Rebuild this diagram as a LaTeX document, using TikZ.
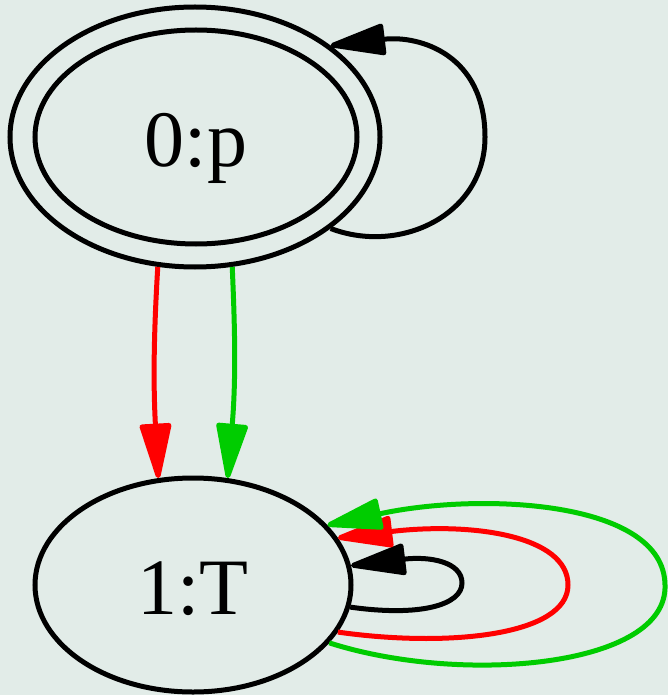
\documentclass[tikz,border=0pt]{standalone}
\usepackage{fontspec}
\setmainfont{Liberation Serif}
\usetikzlibrary{shapes.geometric,arrows.meta}
\definecolor{bgc}{RGB}{226,236,232}
\definecolor{edgered}{RGB}{255,0,0}
\definecolor{edgegreen}{RGB}{0,204,0}
\begin{document}
\begin{tikzpicture}[x=1pt,y=-1pt,
  state/.style={ellipse,draw,line width=5pt,inner sep=0pt,
    text height=58pt,text depth=0pt,font=\fontsize{80}{96}\selectfont},
  edge/.style={line width=5pt,-{Triangle[length=62pt,width=32pt,round]}},
]
% canvas
\fill[bgc] (0,0) rectangle (668,695);
\useasboundingbox (0,0) rectangle (668,695);

% states: 0 is accepting (double ring)
\node[state,minimum width=370pt,minimum height=260pt] (n0) at (195,137) {};
\node[state,minimum width=322pt,minimum height=214pt] (n0in) at (196,137) {0:p};
\node[state,minimum width=316pt,minimum height=214pt] (n1) at (193,585) {1:T};

% transitions 0 -> 1
\draw[edge,edgered] (n0.-106) .. controls (154,330) and (153,380) .. (n1.108);
\draw[edge,edgegreen] (n0.-74) .. controls (235,330) and (236,380) .. (n1.72);

% self loop on 0
\draw[edge] (n0.-34) .. controls (400,255) and (485,215) .. (485,137)
  .. controls (485,55) and (420,35) .. (n0.34);

% self loops on 1
\draw[edge] (n1.-8) .. controls (420,617) and (462,605) .. (462,583)
  .. controls (462,562) and (430,556) .. (n1.7);
\draw[edge,edgered] (n1.-18) .. controls (450,648) and (568,635) .. (568,585)
  .. controls (568,535) and (470,522) .. (n1.18);
\draw[edge,edgegreen] (n1.-23) .. controls (460,685) and (668,668) .. (665,585)
  .. controls (664,500) and (480,492) .. (n1.24);
\end{tikzpicture}
\end{document}
